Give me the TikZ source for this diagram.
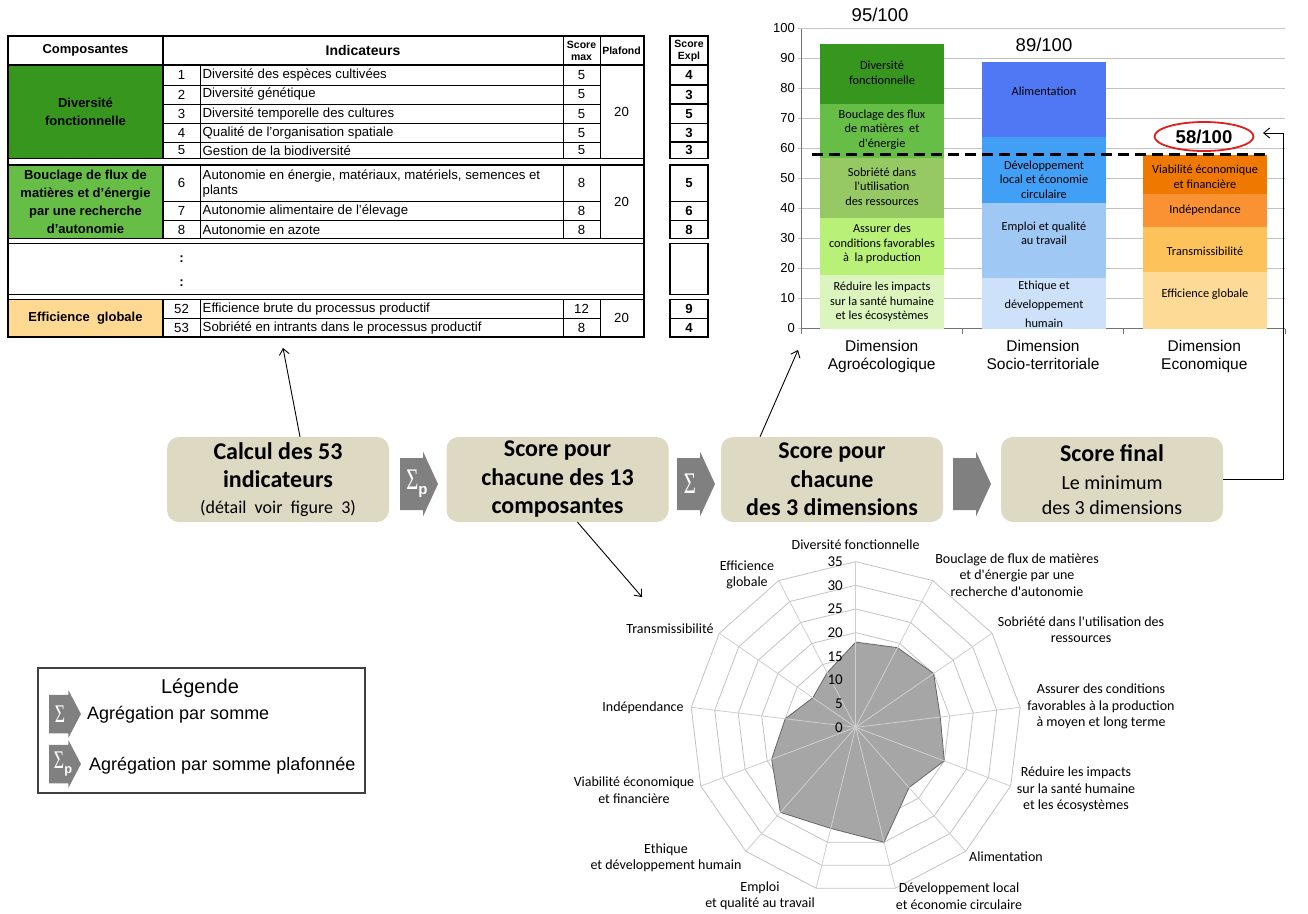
\documentclass[tikz,border=0pt]{standalone}
\usepackage{fontspec}
\setmainfont{Liberation Sans}
\newfontfamily\calfont{Carlito}
\newfontfamily\sigfont{Liberation Serif}
\usepackage{graphicx}
\usetikzlibrary{arrows.meta,shapes.geometric}

\definecolor{boxbeige}{RGB}{221,217,195}
\definecolor{aggrey}{RGB}{128,128,128}
\definecolor{greenA}{RGB}{55,150,30}
\definecolor{greenB}{RGB}{102,190,70}
\definecolor{greenC}{RGB}{150,200,100}
\definecolor{greenD}{RGB}{185,240,120}
\definecolor{greenE}{RGB}{220,245,190}
\definecolor{blueA}{RGB}{80,120,245}
\definecolor{blueB}{RGB}{65,160,245}
\definecolor{blueC}{RGB}{160,200,245}
\definecolor{blueD}{RGB}{205,225,250}
\definecolor{orangeA}{RGB}{238,120,0}
\definecolor{orangeB}{RGB}{250,145,50}
\definecolor{orangeC}{RGB}{253,195,90}
\definecolor{orangeD}{RGB}{253,218,150}
\definecolor{peach}{RGB}{255,217,145}
\definecolor{gridgrey}{RGB}{195,195,195}
\definecolor{radarfill}{RGB}{166,166,166}
\definecolor{scorered}{RGB}{225,30,30}

\newcommand*{\barzero}{328.5}
\newcommand*{\radx}{855.7}
\newcommand*{\rady}{727.3}
\newcommand*{\runit}{4.734}

\newcommand*{\tabfont}{\fontsize{13.2}{15}\selectfont}
\newcommand*{\barfont}{\calfont\fontsize{12.3}{14.5}\selectfont}
\newcommand*{\radfont}{\calfont\fontsize{14}{16.5}\selectfont}
\newcommand*{\boxfont}{\calfont\fontsize{24}{28.5}\selectfont}
\newcommand*{\aggsum}{{\sigfont\fontsize{26}{26}\selectfont\scalebox{0.8}[1.15]{Σ}}}
\newcommand*{\aggsump}{\aggsum\raisebox{-5pt}{\fontsize{15}{15}\selectfont\bfseries p}}

\begin{document}
\begin{tikzpicture}
[
	x=1pt,y=-1pt,
	tabthick/.style={line width=1.6pt},
	tabmid/.style={line width=1.1pt},
	tabthin/.style={line width=0.6pt},
	tabtext/.style={font=\tabfont,inner sep=0pt},
	tabhead/.style={font=\bfseries\fontsize{13}{18}\selectfont,inner sep=0pt,align=center},
	tabsmall/.style={font=\bfseries\fontsize{10.5}{12}\selectfont,inner sep=0pt,align=center},
	tabbold/.style={font=\bfseries\tabfont,inner sep=0pt},
	gridline/.style={gridgrey,line width=1.1pt},
	axisline/.style={black!55,line width=1pt},
	axisnum/.style={font=\fontsize{13}{13}\selectfont,anchor=east,inner sep=0pt},
	catlabel/.style={font=\fontsize{15.5}{18}\selectfont,align=center,inner sep=0pt,anchor=north},
	scorelabel/.style={font=\fontsize{18.5}{20}\selectfont,inner sep=0pt},
	barlabel/.style={font=\barfont,align=center,inner sep=0pt},
	limitline/.style={black,line width=2.6pt,dash pattern=on 11pt off 6pt},
	radargrid/.style={gridgrey,line width=0.8pt},
	radarspoke/.style={gridgrey!80,line width=0.8pt},
	radardata/.style={fill=radarfill,draw=black!60,line width=0.8pt},
	radlabel/.style={font=\radfont,align=center,inner sep=0pt},
	radnum/.style={font=\calfont\fontsize{15}{15}\selectfont,anchor=east,inner sep=0pt},
	flowbox/.style={rounded corners=12pt,fill=boxbeige,minimum width=222pt,minimum height=85pt,align=center,font=\boxfont,inner sep=0pt},
	flowarrow/.style={-{Straight Barb[length=6pt,width=10pt]},line width=0.9pt},
	sigtext/.style={text=white,inner sep=0pt},
	aggarrow/.pic={\fill[aggrey] (0,-26) -- (23,-26) -- (23,-32.5) -- (38,0) -- (23,32.5) -- (23,26) -- (0,26) -- cycle;}
]
	\useasboundingbox (0,0) rectangle (1308,913);
	\fill[white] (0,0) rectangle (1308,913);

	% table fills
	\fill[greenA] (8,65) rectangle (163,158.5);
	\fill[greenB] (8,165) rectangle (163,238.5);
	\fill[peach] (8,299.5) rectangle (163,337);

	% table rules
	\foreach \ya/\yb in {36/65, 65/158.5, 165/238.5, 243.5/294.5, 299.5/337}
		\draw[tabthick] (8,\ya) rectangle (644,\yb);
	\draw[tabthick] (8,158.5) -- (8,299.5) (644,158.5) -- (644,299.5);
	\foreach \ya/\yb in {36/65, 65/158.5, 165/238.5, 299.5/337}
		\draw[tabthin] (563,\ya) -- (563,\yb) (600,\ya) -- (600,\yb);
	\foreach \ya/\yb in {65/158.5, 165/238.5, 299.5/337}
		\draw[tabthin] (200,\ya) -- (200,\yb);
	\foreach \ya/\yb in {36/65, 65/158.5, 165/238.5, 299.5/337}
		\draw[tabmid] (163,\ya) -- (163,\yb);
	\foreach \y in {85,104,123.3,142,201.7,220.5,318.3}
		\draw[tabthin] (163,\y) -- (600,\y);

	% table texts
	\node[tabhead] (hcomp) at (85.5,50.5) {Composantes};
	\node[tabhead,font=\bfseries\fontsize{14}{16}\selectfont] (hind) at (363,50.5) {Indicateurs};
	\node[tabsmall] (hmax) at (581.5,50.5) {Score\\max};
	\node[tabsmall] (hplaf) at (621.5,50.5) {Plafond};
	\node[tabhead] (comp1) at (85.5,111.7) {Diversité\\fonctionnelle};
	\node[tabhead] (comp2) at (85.5,201.7) {Bouclage de flux de\\matières et d'énergie\\par une recherche\\d'autonomie};
	\node[tabhead] (comp3) at (85.5,318.3) {Efficience\ \ globale};
	\foreach \y/\n/\txt/\mx in {75/1/{Diversité des espèces cultivées}/5, 94.5/2/{Diversité génétique}/5,
		113.7/3/{Diversité temporelle des cultures}/5, 132.7/4/{Qualité de l'organisation spatiale}/5,
		150.3/5/{Gestion de la biodiversité}/5, 211/7/{Autonomie alimentaire de l'élevage}/8,
		229.5/8/{Autonomie en azote}/8, 309.2/52/{Efficience brute du processus productif}/12,
		327.7/53/{Sobriété en intrants dans le processus productif}/8}
	{
		\node[tabtext] (num\n) at (181.5,\y) {\n};
		\node[tabtext,anchor=west] (ind\n) at (202.5,\y) {\txt};
		\node[tabtext] (max\n) at (581.5,\y) {\mx};
	}
	\node[tabtext] (num6) at (181.5,183.3) {6};
	\node[tabtext,anchor=west,align=left] (ind6) at (202.5,183.3) {Autonomie en énergie, matériaux, matériels, semences et\\plants};
	\node[tabtext] (max6) at (581.5,183.3) {8};
	\foreach \y [count=\i] in {111.7,201.7,318.3}
		\node[tabtext] (plaf\i) at (621.5,\y) {20};
	\node[tabbold] (dotsA) at (181.5,259) {:};
	\node[tabbold] (dotsB) at (181.5,283) {:};

	% score expl column
	\foreach \ya/\yb in {36/65, 65/158.5, 165/238.5, 243.5/294.5, 299.5/337}
		\draw[tabthick] (670,\ya) rectangle (708,\yb);
	\foreach \y in {85,104,123.3,142,201.7,220.5,318.3}
		\draw[tabmid] (670,\y) -- (708,\y);
	\node[tabsmall] (hexpl) at (689,50.5) {Score\\Expl};
	\foreach \y/\s [count=\i] in {75/4, 94.5/3, 113.7/5, 132.7/3, 150.3/3, 183.3/5, 211/6, 229.5/8, 309.2/9, 327.7/4}
		\node[tabbold] (expl\i) at (689,\y) {\s};

	% bar chart grid and axes
	\foreach \v in {0,10,...,100}
	{
		\draw[gridline] (798,{\barzero-3*\v}) -- (1285,{\barzero-3*\v});
		\node[axisnum] (yt\v) at (795,{\barzero-3*\v}) {\v};
	}
	\draw[axisline] (801,\barzero) -- (801,28.5);
	\draw[axisline] (801,\barzero) -- (1285,\barzero);
	\foreach \x in {801,962.3,1123.7,1285}
		\draw[axisline] (\x,\barzero) -- (\x,{\barzero+5});

	% bars
	\foreach \xa/\lo/\hi/\col in {820/0/18/greenE, 820/18/37/greenD, 820/37/57/greenC, 820/57/75/greenB, 820/75/95/greenA,
		982/0/17/blueD, 982/17/42/blueC, 982/42/64/blueB, 982/64/89/blueA,
		1143/0/19/orangeD, 1143/19/34/orangeC, 1143/34/45/orangeB, 1143/45/58/orangeA}
		\fill[\col] (\xa,{\barzero-3*\lo}) rectangle ({\xa+124},{\barzero-3*\hi});

	\node[barlabel] (bdiv) at (882,73) {Diversité\\fonctionnelle};
	\node[barlabel] (bbou) at (882,129.5) {Bouclage des flux\\de matières\ \ et\\d'énergie};
	\node[barlabel] (bsob) at (882,186.5) {Sobriété dans\\l'utilisation\\des ressources};
	\node[barlabel] (bass) at (882,244) {Assurer des\\conditions favorables\\à\ \ la production};
	\node[barlabel] (bred) at (882,302) {Réduire les impacts\\sur la santé humaine\\et les écosystèmes};
	\node[barlabel] (bali) at (1044,91) {Alimentation};
	\node[barlabel] (bdev) at (1044,179.5) {Développement\\local et économie\\circulaire};
	\node[barlabel] (bemp) at (1044,233.5) {Emploi et qualité\\au travail};
	\node[barlabel,font=\calfont\fontsize{12.3}{19}\selectfont] (beth) at (1044,304) {Ethique et\\développement\\humain};
	\node[barlabel] (bvia) at (1205,177) {Viabilité économique\\et financière};
	\node[barlabel] (bind) at (1205,210.5) {Indépendance};
	\node[barlabel] (btra) at (1205,251.5) {Transmissibilité};
	\node[barlabel] (beff) at (1205,294) {Efficience globale};

	\draw[limitline] (812,154.5) -- (1268,154.5);

	\node[catlabel] (dimA) at (881.7,340) {Dimension\\Agroécologique};
	\node[catlabel] (dimS) at (1043,340) {Dimension\\Socio-territoriale};
	\node[catlabel] (dimE) at (1204.3,340) {Dimension\\Economique};

	\node[scorelabel] (scoreA) at (880,15) {95/100};
	\node[scorelabel] (scoreS) at (1044,45) {89/100};
	\node[scorelabel,ellipse,draw=scorered,line width=1.8pt,minimum width=99pt,minimum height=29pt,
		font=\bfseries\fontsize{18.5}{20}\selectfont] (scoreE) at (1204,136.5) {58/100};

	% radar
	\foreach \v in {5,10,...,35}
		\draw[radargrid] (\radx,{\rady-\v*\runit}) \foreach \k in {1,...,12}
			{ -- ({\radx+\v*\runit*sin(\k*360/13)},{\rady-\v*\runit*cos(\k*360/13)}) } -- cycle;
	\filldraw[radardata] (\radx,{\rady-18*\runit}) \foreach \val [count=\k] in {19,20,18,20,17,25,22,24,19,15,11,13}
		{ -- ({\radx+\val*\runit*sin(\k*360/13)},{\rady-\val*\runit*cos(\k*360/13)}) } -- cycle;
	\foreach \k in {0,...,12}
		\draw[radarspoke] (\radx,\rady) -- ({\radx+35*\runit*sin(\k*360/13)},{\rady-35*\runit*cos(\k*360/13)});
	\foreach \v in {0,5,...,35}
		\node[radnum] (rt\v) at (843,{\rady-\v*\runit}) {\v};

	\node[radlabel] (rdiv) at (855.6,545) {Diversité fonctionnelle};
	\node[radlabel] (rbou) at (1017,575) {Bouclage de flux de matières\\et d'énergie par une\\recherche d'autonomie};
	\node[radlabel] (rsob) at (1081,629.5) {Sobriété dans l'utilisation des\\ressources};
	\node[radlabel] (rass) at (1101,706.5) {Assurer des conditions\\favorables à la production\\à moyen et long terme};
	\node[radlabel] (rred) at (1076,789.5) {Réduire les impacts\\sur la santé humaine\\et les écosystèmes};
	\node[radlabel] (rali) at (1006,857) {Alimentation};
	\node[radlabel] (rdev) at (959,896) {Développement local\\et économie circulaire};
	\node[radlabel] (remp) at (760,896) {Emploi\\et qualité au travail};
	\node[radlabel] (reth) at (666,858) {Ethique\\et développement humain};
	\node[radlabel] (rvia) at (634,790) {Viabilité économique\\et financière};
	\node[radlabel] (rind) at (643,708) {Indépendance};
	\node[radlabel] (rtra) at (670,629) {Transmissibilité};
	\node[radlabel] (reff) at (747,575) {Efficience\\globale};

	% flow
	\node[flowbox] (calc) at (278,479.5) {\textbf{Calcul des 53}\\\textbf{indicateurs}\\[-3pt]{\fontsize{18}{20}\selectfont(détail~~voir~~figure~~3)}};
	\node[flowbox] (comps) at (557.5,479.5) {\textbf{Score pour}\\\textbf{chacune des 13}\\\textbf{composantes}};
	\node[flowbox] (dims) at (832,479.5) {\textbf{Score pour}\\\textbf{chacune}\\\textbf{des 3 dimensions}};
	\node[flowbox] (final) at (1112,479.5) {\textbf{Score final}\\{\fontsize{20}{24}\selectfont Le minimum}\\[-3.5pt]{\fontsize{20}{24}\selectfont des 3 dimensions}};

	\pic at (400,484) {aggarrow};
	\node[sigtext] (sumA) at (417,484) {\aggsump};
	\pic at (677,484) {aggarrow};
	\node[sigtext] (sumB) at (690,484) {\aggsum};
	\pic at (953,484) {aggarrow};

	\coordinate (tabtip) at (283,348);
	\coordinate (bartip) at (798,350);
	\coordinate (radtip) at (642,597);
	\coordinate (retcorner) at (1283,133);
	\coordinate (rettip) at (1263,133);
	\draw[flowarrow] ([xshift=22pt]calc.north) -- (tabtip);
	\draw[flowarrow] ([xshift=-72pt]dims.north) -- (bartip);
	\draw[flowarrow] ([xshift=20pt]comps.south) -- (radtip);
	\draw[flowarrow] (final.east) -| (retcorner) -- (rettip);

	% legend
	\draw[black!75,line width=1.2pt] (38,668) rectangle (365,793);
	\node[font=\fontsize{20}{20}\selectfont,inner sep=0pt] (legtitle) at (200,688) {Légende};
	\pic[xscale=0.84,yscale=0.74] at (49,714) {aggarrow};
	\node[sigtext,scale=0.85] (legsumA) at (60,714) {\aggsum};
	\node[font=\fontsize{18}{18}\selectfont,anchor=west,inner sep=0pt] (legtextA) at (87,715) {Agrégation par somme};
	\pic[xscale=0.84,yscale=0.74] at (49,764) {aggarrow};
	\node[sigtext,scale=0.85] (legsumB) at (63,764) {\aggsump};
	\node[font=\fontsize{18}{18}\selectfont,anchor=west,inner sep=0pt] (legtextB) at (89,766) {Agrégation par somme plafonnée};

\end{tikzpicture}
\end{document}
